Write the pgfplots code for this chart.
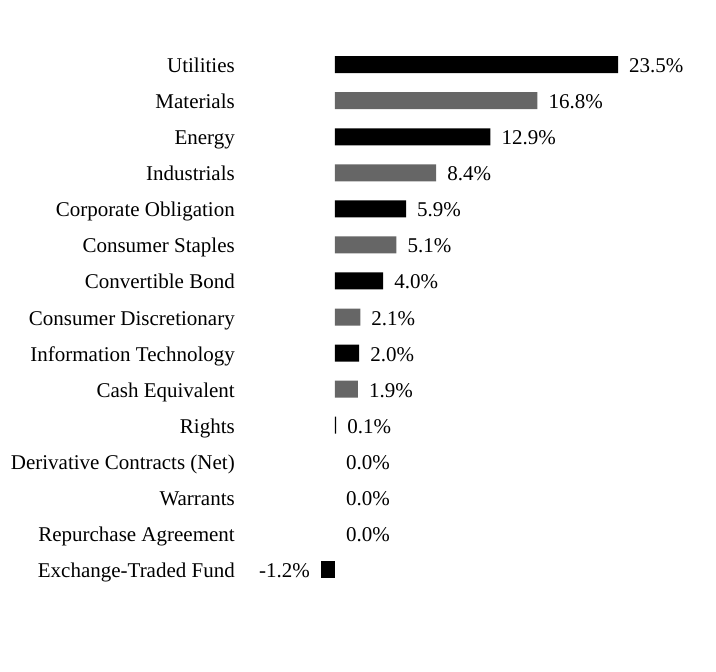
\documentclass[border=0pt]{standalone}
\usepackage{pgfplots}
\pgfplotsset{compat=1.18}
\usepackage{fontspec}
\setmainfont{Liberation Serif}
\definecolor{bargray}{HTML}{666666}
\newcommand{\lbl}{\fontsize{21bp}{25bp}\selectfont}
\begin{document}
\begin{tikzpicture}
\path[use as bounding box] (0,0) rectangle (716bp,672bp);
\begin{axis}[
  at={(310.9bp,84.5bp)}, anchor=south west,
  scale only axis, width=385.4bp, height=540.9bp,
  xmin=-2, xmax=30, ymin=-0.5, ymax=14.5,
  y dir=reverse,
  xbar, bar width=17bp,
  axis line style={draw=none},
  xtick=\empty,
  ytick={0,...,14},
  yticklabels={Utilities,Materials,Energy,Industrials,Corporate Obligation,Consumer Staples,Convertible Bond,Consumer Discretionary,Information Technology,Cash Equivalent,Rights,Derivative Contracts (Net),Warrants,Repurchase Agreement,Exchange-Traded Fund},
  major tick length=0pt,
  yticklabel style={font=\lbl, anchor=base east, inner sep=0pt, xshift=-75.9bp, yshift=-8bp},
  clip=false,
  point meta=explicit symbolic,
  nodes near coords,
  nodes near coords style={font=\lbl, anchor=base west, inner sep=0pt, xshift=11bp, yshift=-8bp},
]
\addplot[fill=black, draw=none, bar shift=0pt] coordinates {
  (23.5,0) [23.5\%]
  (12.9,2) [12.9\%]
  (5.9,4) [5.9\%]
  (4.0,6) [4.0\%]
  (2.0,8) [2.0\%]
  (0.1,10) [0.1\%]
};
\addplot[fill=bargray, draw=none, bar shift=0pt] coordinates {
  (16.8,1) [16.8\%]
  (8.4,3) [8.4\%]
  (5.1,5) [5.1\%]
  (2.1,7) [2.1\%]
  (1.9,9) [1.9\%]
};
\addplot[fill=none, draw=none, bar shift=0pt] coordinates {
  (0.0,11) [0.0\%]
  (0.0,12) [0.0\%]
  (0.0,13) [0.0\%]
};
\addplot[fill=black, draw=none, bar shift=0pt,
  nodes near coords style={anchor=base east, xshift=-21.5bp}] coordinates {
  (-1.2,14) [-1.2\%]
};
\end{axis}
\end{tikzpicture}
\end{document}
